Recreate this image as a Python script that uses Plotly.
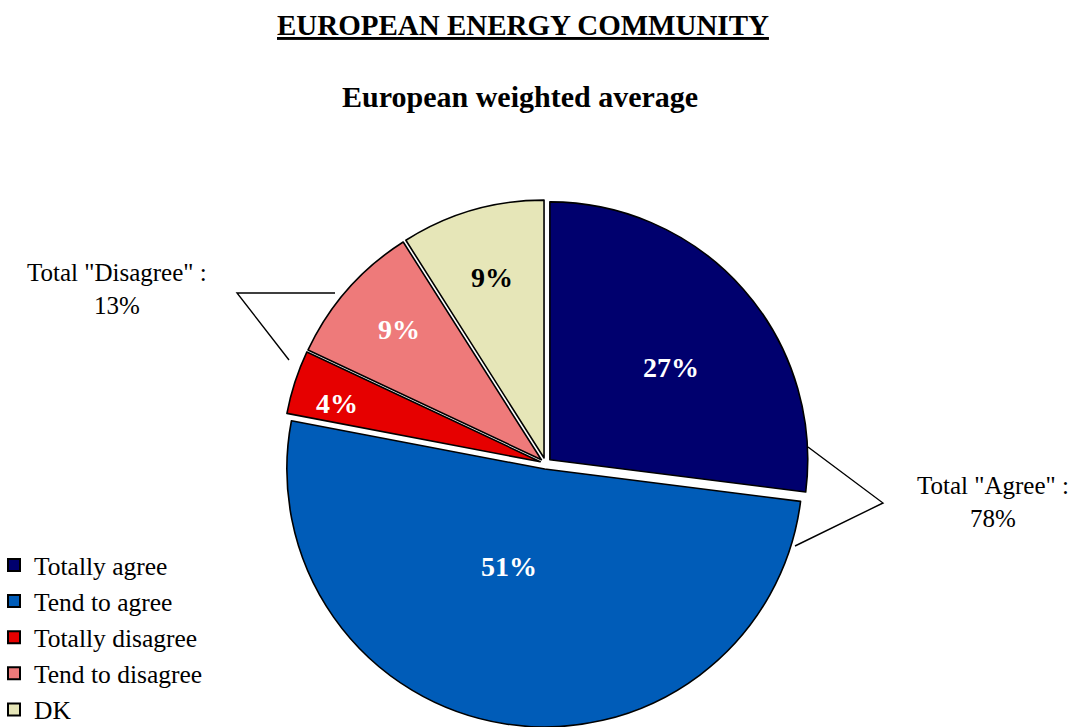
import math
import plotly.graph_objects as go

# Survey answers (share of respondents, %)
categories = ["Totally agree", "Tend to agree", "Totally disagree", "Tend to disagree", "DK"]
shares = [27, 51, 4, 9, 9]

# Slice styling
slice_colors = ["#00006E", "#005CB8", "#E60000", "#EE7A7A", "#E6E6B8"]
label_colors = ["white", "white", "white", "white", "black"]
# label placement inside each slice: (fraction of radius, angular nudge in degrees)
label_anchor = [(0.59, 4.0), (0.40, 10.5), (0.82, -2.0), (0.75, 1.0), (0.73, 0.0)]

W, H = 1073, 727
SERIF = "Liberation Serif"
PULL = 0.022
DOM_X = [0.22, 0.797]
DOM_Y = [0.0, 0.725]

fig = go.Figure()
fig.add_trace(go.Pie(
    labels=categories,
    values=shares,
    sort=False,
    direction="clockwise",
    rotation=0,
    pull=[PULL] * len(shares),
    marker=dict(colors=slice_colors, line=dict(color="black", width=1.6)),
    textinfo="none",
    hoverinfo="label+percent",
    domain=dict(x=DOM_X, y=DOM_Y),
))

# Pie geometry in pixels (margins are zero, so paper == page)
cx = (DOM_X[0] + DOM_X[1]) / 2 * W
cy = (1 - (DOM_Y[0] + DOM_Y[1]) / 2) * H
half = min((DOM_X[1] - DOM_X[0]) * W, (DOM_Y[1] - DOM_Y[0]) * H) / 2
radius = half / (1 + PULL)

total = sum(shares)
start = 0.0
for share, col, (frac, nudge) in zip(shares, label_colors, label_anchor):
    span = share / total * 360.0
    mid = start + span / 2 + nudge
    start += span
    d = (frac + PULL) * radius
    px = cx + d * math.sin(math.radians(mid))
    py = cy - d * math.cos(math.radians(mid))
    fig.add_annotation(
        x=px / W, y=1 - py / H, xref="paper", yref="paper",
        xanchor="center", yanchor="middle",
        text=f"<b>{round(share / total * 100)}%</b>", showarrow=False,
        font=dict(family=SERIF, size=28, color=col),
    )

# Group totals
agree_total = shares[0] + shares[1]
disagree_total = shares[2] + shares[3]

def P(x, y):
    return x / W, 1 - y / H

def note(x, y, text, size):
    px, py = P(x, y)
    fig.add_annotation(x=px, y=py, xref="paper", yref="paper",
                       xanchor="center", yanchor="middle", showarrow=False,
                       text=text, align="center",
                       font=dict(family=SERIF, size=size, color="black"))

# Callout for the agree group
ax0, ay0 = P(808, 447)
ax1, ay1 = P(883, 503)
ax2, ay2 = P(795, 546)
fig.add_shape(type="path", xref="paper", yref="paper",
              path=f"M {ax0} {ay0} L {ax1} {ay1} L {ax2} {ay2}",
              line=dict(color="black", width=1.4))
note(993, 502, f'Total "Agree" :<br>{agree_total}%', 25)

# Callout for the disagree group
dx0, dy0 = P(335, 293)
dx1, dy1 = P(237, 293)
dx2, dy2 = P(289, 360)
fig.add_shape(type="path", xref="paper", yref="paper",
              path=f"M {dx0} {dy0} L {dx1} {dy1} L {dx2} {dy2}",
              line=dict(color="black", width=1.4))
note(117, 289, f'Total "Disagree" :<br>{disagree_total}%', 25)

# Titles
note(523, 25, "<b><u>EUROPEAN ENERGY COMMUNITY</u></b>", 29)
note(520, 96, "<b>European weighted average</b>", 30)

fig.update_layout(
    width=W, height=H,
    margin=dict(l=0, r=0, t=0, b=0, autoexpand=False),
    paper_bgcolor="white",
    plot_bgcolor="white",
    showlegend=True,
    legend=dict(
        x=-0.0056, y=-0.008, xanchor="left", yanchor="bottom",
        font=dict(family=SERIF, size=25.5, color="black"),
        bgcolor="rgba(0,0,0,0)",
        traceorder="normal",
        itemsizing="constant",
    ),
)

fig.write_html("out.html")
